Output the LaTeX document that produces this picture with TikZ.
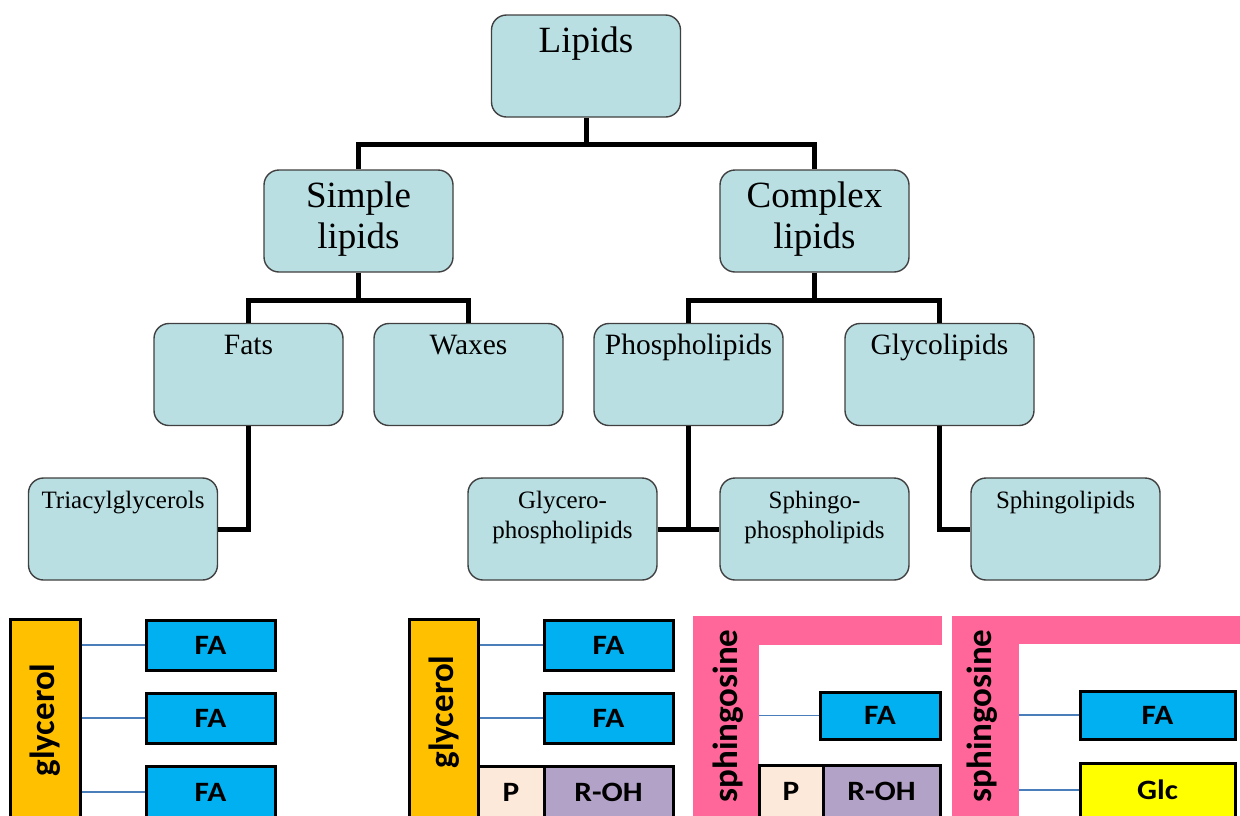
\documentclass[tikz,border=0pt]{standalone}
\usepackage{fontspec}
\setmainfont{Liberation Serif}
\newfontfamily\calib{Carlito}
\newfontfamily\calibw[FakeStretch=1.12]{Carlito}
\definecolor{boxfill}{HTML}{B9DFE3}
\definecolor{boxborder}{HTML}{404040}
\definecolor{glyor}{HTML}{FFC000}
\definecolor{fablue}{HTML}{00B0F0}
\definecolor{pfill}{HTML}{FDE9D9}
\definecolor{rohfill}{HTML}{B3A2C7}
\definecolor{sphpink}{HTML}{FF6699}
\definecolor{glcyel}{HTML}{FFFF00}
\definecolor{linkblue}{HTML}{4A7EBB}
\tikzset{
  cbox/.style={draw=boxborder, line width=1.4pt, fill=boxfill, rounded corners=15pt,
    minimum width=189pt, minimum height=102pt, inner sep=0pt},
  conn/.style={line width=5pt, black},
  tbig/.style={font=\fontsize{37}{40}\selectfont, anchor=base, inner sep=0pt},
  tmid/.style={font=\fontsize{29.5}{32}\selectfont, anchor=base, inner sep=0pt},
  tsmall/.style={font=\fontsize{25}{28}\selectfont, anchor=base, inner sep=0pt},
  sbox/.style={draw=black, line width=3pt, inner sep=0pt,
    font=\calibw\bfseries\fontsize{28}{30}\selectfont},
  rlabel/.style={rotate=90, inner sep=0pt, font=\calib\bfseries\fontsize{35}{38}\selectfont},
  link/.style={draw=linkblue, line width=1.3pt},
}
\begin{document}
\begin{tikzpicture}[x=1pt,y=-1pt]
\useasboundingbox (0,0) rectangle (1240,815);
\clip (0,0) rectangle (1240,815);
% ---------- tree boxes ----------
\node[cbox] (lip) at (586,66) {};
\node[tbig] (lipT) at (586,52) {Lipids};
\node[cbox] (simp) at (358.5,221) {};
\node[tbig] (simpA) at (358.5,207) {Simple};
\node[tbig] (simpB) at (358.5,248) {lipids};
\node[cbox] (comp) at (814.5,221) {};
\node[tbig] (compA) at (814.5,207) {Complex};
\node[tbig] (compB) at (814.5,248) {lipids};
\node[cbox] (fats) at (248.5,374.5) {};
\node[tmid] (fatsT) at (248.5,354) {Fats};
\node[cbox] (wax) at (468.5,374.5) {};
\node[tmid] (waxT) at (468.5,354) {Waxes};
\node[cbox] (phos) at (688.5,374.5) {};
\node[tmid] (phosT) at (688.5,354) {Phospholipids};
\node[cbox] (glyc) at (939.5,374.5) {};
\node[tmid] (glycT) at (939.5,354) {Glycolipids};
\node[cbox] (tri) at (123,529) {};
\node[tsmall] (triT) at (123,508) {Triacylglycerols};
\node[cbox] (gph) at (562.5,529) {};
\node[tsmall] (gphA) at (562.5,508) {Glycero-};
\node[tsmall] (gphB) at (562.5,538) {phospholipids};
\node[cbox] (sph) at (814.5,529) {};
\node[tsmall] (sphA) at (814.5,508) {Sphingo-};
\node[tsmall] (sphB) at (814.5,538) {phospholipids};
\node[cbox] (sgl) at (1065.5,529) {};
\node[tsmall] (sglT) at (1065.5,508) {Sphingolipids};
% ---------- tree connectors ----------
\draw[conn] (lip.south) -- ++(0,27) -| (simp.north);
\draw[conn] (lip.south) ++(0,27) -| (comp.north);
\draw[conn] (simp.south) -- ++(0,28) -| (fats.north);
\draw[conn] (simp.south) ++(0,28) -| (wax.north);
\draw[conn] (comp.south) -- ++(0,28) -| (phos.north);
\draw[conn] (comp.south) ++(0,28) -| (glyc.north);
\draw[conn] (fats.south) |- (tri.east);
\draw[conn] (phos.south) -- (phos.south |- gph.east);
\draw[conn] (gph.east) -- (sph.west);
\draw[conn] (glyc.south) |- (sgl.west);
% ---------- panel 1: triacylglycerol ----------
\node[sbox, fill=glyor, minimum width=70pt, minimum height=211pt] (g1) at (45,724.5) {};
\node[rlabel] (g1T) at (45,720) {glycerol};
\node[sbox, fill=fablue, minimum width=129pt, minimum height=50pt] (fa1a) at (210.5,645) {FA};
\node[sbox, fill=fablue, minimum width=129pt, minimum height=50pt] (fa1b) at (210.5,718) {FA};
\node[sbox, fill=fablue, minimum width=129pt, minimum height=52pt] (fa1c) at (210.5,792) {FA};
\draw[link] (g1.east |- fa1a.west) -- (fa1a.west);
\draw[link] (g1.east |- fa1b.west) -- (fa1b.west);
\draw[link] (g1.east |- fa1c.west) -- (fa1c.west);
% ---------- panel 2: glycerophospholipid ----------
\node[sbox, fill=glyor, minimum width=69pt, minimum height=211pt] (g2) at (443.5,724.5) {};
\node[rlabel] (g2T) at (444,712) {glycerol};
\node[sbox, fill=fablue, minimum width=129pt, minimum height=50pt] (fa2a) at (608.5,645) {FA};
\node[sbox, fill=fablue, minimum width=129pt, minimum height=50pt] (fa2b) at (608.5,718) {FA};
\node[sbox, fill=pfill, minimum width=66pt, minimum height=52pt] (p2) at (511,792) {P};
\node[sbox, fill=rohfill, minimum width=129pt, minimum height=52pt] (r2) at (608.5,792) {R-OH};
\draw[link] (g2.east |- fa2a.west) -- (fa2a.west);
\draw[link] (g2.east |- fa2b.west) -- (fa2b.west);
% ---------- panel 3: sphingophospholipid ----------
\node[fill=sphpink, inner sep=0pt, minimum width=66pt, minimum height=214pt] (s3) at (726,723) {};
\node[fill=sphpink, inner sep=0pt, minimum width=249pt, minimum height=29pt] (s3top) at (817.5,630.5) {};
\node[rlabel] (s3T) at (728,716) {sphingosine};
\node[sbox, fill=fablue, minimum width=120pt, minimum height=47pt] (fa3) at (880,715.5) {FA};
\node[sbox, fill=pfill, minimum width=64pt, minimum height=52pt] (p3) at (791,791) {P};
\node[sbox, fill=rohfill, minimum width=117pt, minimum height=52pt] (r3) at (881.5,791) {R-OH};
\draw[link] (s3.east |- fa3.west) -- (fa3.west);
% ---------- panel 4: glycolipid ----------
\node[fill=sphpink, inner sep=0pt, minimum width=67pt, minimum height=214pt] (s4) at (985.5,723) {};
\node[fill=sphpink, inner sep=0pt, minimum width=293pt, minimum height=28pt] (s4top) at (1098.5,630) {};
\node[rlabel] (s4T) at (982,716) {sphingosine};
\node[sbox, fill=fablue, minimum width=155pt, minimum height=48pt] (fa4) at (1157.5,715) {FA};
\node[sbox, fill=glcyel, minimum width=155pt, minimum height=54pt] (glc4) at (1157.5,790) {Glc};
\draw[link] (s4.east |- fa4.west) -- (fa4.west);
\draw[link] (s4.east |- glc4.west) -- (glc4.west);
\end{tikzpicture}
\end{document}
